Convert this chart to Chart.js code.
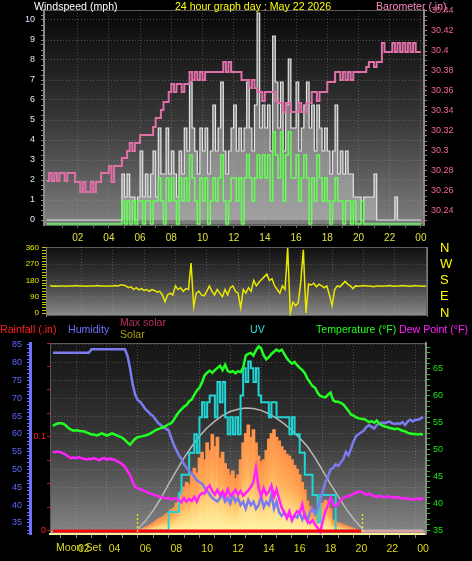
<!DOCTYPE html>
<html>
<head>
<meta charset="utf-8">
<script src="https://cdn.jsdelivr.net/npm/chart.js@4.4.1/dist/chart.umd.min.js"></script>
<style>
  body { margin: 0; background: #000; width: 472px; height: 561px; overflow: hidden;
         font-family: "Liberation Sans", Arial, sans-serif; }
  #wrap { position: relative; width: 472px; height: 561px; }
  canvas { position: absolute; left: 0; }
  .lbl { position: absolute; font-size: 10.6px; line-height: 12px; white-space: nowrap; }
</style>
</head>
<body>
<div id="wrap">
  <canvas id="windChart" width="472" height="245" style="top:0"></canvas>
  <canvas id="dirChart" width="472" height="82" style="top:240px"></canvas>
  <canvas id="climateChart" width="472" height="231" style="top:330px"></canvas>

  <div class="lbl" style="left:34px;top:0;color:#fff">Windspeed (mph)</div>
  <div class="lbl" style="left:253px;top:0;color:#ffff00;transform:translateX(-50%)">24 hour graph day : May 22 2026</div>
  <div class="lbl" style="left:376px;top:0;color:#ff88c0">Barometer (.in)</div>

  <div class="lbl" style="left:0;top:323px;color:#ff2020">Rainfall (.in)</div>
  <div class="lbl" style="left:68px;top:323px;color:#7070ff">Humidity</div>
  <div class="lbl" style="left:120px;top:316px;color:#b83058">Max solar</div>
  <div class="lbl" style="left:120px;top:328px;color:#a8a010">Solar</div>
  <div class="lbl" style="left:250px;top:323px;color:#20e0e0">UV</div>
  <div class="lbl" style="left:316px;top:323px;color:#20ff20">Temperature (°F)</div>
  <div class="lbl" style="left:399px;top:323px;color:#ff20ff">Dew Point (°F)</div>
  <div class="lbl" style="left:56px;top:541px;color:#d8d820">Moon Set</div>
</div>

<script>
// ---- data: 10 minute samples, index 0 = 00:00, index 144 = 24:00 ----
const STEP = 1 / 6;

const GUST = [
  0,0,0,0,0,0, 0,0,0,0,0,0,
  0,0,0,0,0,0, 0,0,0,0,0,0,
  0,0,0,0,0,2.3, 1.15,2.3,1.15,1.15,0,1.15,
  3.45,1.15,2.3,1.15,2.3,3.45, 1.15,4.6,2.3,2.3,4.6,2.3,
  3.45,2.3,1.15,3.45,2.3,4.6, 3.45,6.9,4.6,3.45,2.3,4.6,
  3.45,4.6,2.3,3.45,5.75,3.45, 4.6,6.9,3.45,2.3,3.45,4.6,
  5.75,3.45,4.6,3.45,4.6,6.9, 4.6,3.45,5.75,10.35,4.6,5.75,
  4.6,5.75,3.45,9.2,6.9,4.6, 6.9,3.45,5.75,8.05,4.6,4.6,
  6.9,3.45,4.6,5.75,6.9,4.6, 5.75,3.45,5.75,4.6,3.45,4.6,
  3.45,2.3,3.45,5.75,2.3,3.45, 2.3,3.45,2.3,2.3,1.15,1.15,
  1.15,0,1.15,1.15,1.15,1.15, 2.3,0,0,0,0,0,
  0,0,1.15,0,0,0, 0,0,0,0,0,0,
  0
];

const AVG_WIND = [
  0,0,0,0,0,0, 0,0,0,0,0,0,
  0,0,0,0,0,0, 0,0,0,0,0,0,
  0,0,0,0,0,1.15, 0,1.15,0,1.15,0,1.15,
  1.15,0,1.15,1.15,0,1.15, 1.15,2.3,1.15,0,2.3,1.15,
  2.3,1.15,0,2.3,1.15,2.3, 1.15,3.45,2.3,1.15,0,2.3,
  1.15,2.3,0,1.15,2.3,1.15, 2.3,3.45,1.15,0,1.15,2.3,
  2.3,1.15,2.3,0,2.3,3.45, 2.3,1.15,2.3,3.45,2.3,3.45,
  2.3,3.45,1.15,4.6,3.45,2.3, 4.6,1.15,3.45,4.6,2.3,2.3,
  3.45,1.15,2.3,3.45,2.3,0, 2.3,1.15,3.45,2.3,1.15,2.3,
  1.15,0,1.15,2.3,1.15,1.15, 0,1.15,1.15,0,1.15,0,
  0,1.15,0,0,0,0, 0,0,0,0,0,0,
  0,0,0,0,0,0, 0,0,0,0,0,0,
  0
];

const BARO = [
  30.270,30.278,30.270,30.278,30.270,30.278, 30.278,30.270,30.278,30.278,30.278,30.269,
  30.269,30.259,30.269,30.259,30.259,30.269, 30.259,30.269,30.269,30.278,30.278,30.278,
  30.285,30.269,30.285,30.285,30.285,30.293, 30.293,30.300,30.308,30.300,30.308,30.308,
  30.316,30.316,30.316,30.316,30.316,30.324, 30.333,30.333,30.341,30.349,30.349,30.359,
  30.367,30.359,30.367,30.367,30.359,30.367, 30.367,30.379,30.371,30.379,30.371,30.379,
  30.371,30.379,30.379,30.379,30.379,30.379, 30.379,30.379,30.389,30.379,30.389,30.379,
  30.379,30.379,30.379,30.371,30.371,30.371, 30.363,30.371,30.363,30.359,30.359,30.350,
  30.359,30.359,30.359,30.359,30.350,30.348, 30.348,30.339,30.348,30.348,30.339,30.339,
  30.339,30.348,30.339,30.339,30.348,30.348, 30.359,30.359,30.350,30.359,30.359,30.359,
  30.369,30.369,30.369,30.379,30.379,30.371, 30.379,30.371,30.379,30.371,30.379,30.379,
  30.379,30.379,30.379,30.384,30.389,30.389, 30.384,30.389,30.389,30.408,30.399,30.399,
  30.399,30.408,30.399,30.408,30.399,30.408, 30.399,30.408,30.399,30.408,30.399,30.399,
  30.399
];

const WIND_DIR = [
  152,148,150,148,150,150, 148,150,150,150,152,150,
  150,150,148,150,150,150, 152,150,150,148,150,150,
  150,152,150,155,155,150, 140,145,130,140,128,135,
  125,130,120,130,125,115, 120,100,63,100,110,100,
  150,130,140,120,135,130, 277,35,110,120,100,95,
  120,150,120,100,130,110, 90,130,100,140,150,120,
  110,28,130,110,140,120, 180,150,170,185,200,215,
  180,190,150,130,110,150, 130,360,0,60,40,55,
  170,350,0,160,155,165, 145,160,150,140,150,100,
  40,130,150,145,160,175, 160,150,135,150,148,150,
  152,150,150,148,145,150, 150,148,150,150,152,150,
  148,150,150,152,150,150, 148,150,152,150,150,148,
  150
];

const HUMIDITY = [
  82.8,82.8,82.8,82.8,82.8,82.8, 82.8,82.8,82.8,82.8,82.8,82.8,
  82.8,82.8,82.8,83.8,83.8,83.8, 83.8,83.8,83.8,83.8,83.8,83.8,
  83.8,83.8,83.8,83.8,83.8,82, 78.5,74,71,69.5,69,68,
  67,66.3,65.5,65,64,63, 62.5,61.8,61.5,61,59,57,
  55.5,54,53,51.5,50.5,49.5, 49,48,47,46.5,46,45,
  44,43,42,41.5,41,42, 43,41,42,40.5,43,41,
  42,40,41,39,41.5,40, 41,39,40,42.5,39.5,41,
  40,43,39,41,38,37, 38,36.5,37.5,36,37,36.5,
  38,36,37.5,35.5,38,39, 37.5,39.5,41,44,46.5,48,
  50,50.5,51.5,51,52,53, 55,54,56,58,59.5,60,
  60.5,61,62,62.5,62,61.5, 62.5,63,63.2,63,63.3,63.5,
  63,62.8,63,62.8,63.3,62.5, 63.5,64,63.5,64,64,64.3,
  64.8
];

const TEMPERATURE = [
  54.4,54.7,54.9,54.9,54.8,54.5, 54,53.7,53.5,53.6,53.5,53.4,
  53.4,53.2,53,52.8,52.8,52.6, 52.8,53,52.8,52.6,52.8,53,
  52.8,52.6,52.4,52.2,51.8,51.3, 50.9,51.5,52,52.3,52.4,52.5,
  52.6,52.8,53,53.3,53.6,53.8, 54,54.2,54.4,54.7,54.9,55.5,
  56.3,57,57.5,58,58.3,59, 59.3,60.2,61,61.5,62.5,63.8,
  64.3,64.7,64.3,64.8,65.2,65.6, 64.8,65.8,64.6,64.4,64.6,64.2,
  64.6,64.4,65.2,67.5,67.8,68, 67.5,68.5,69.2,68.8,67.5,66.8,
  67.2,67.8,68.2,68.6,68.3,68.6, 67.8,67,66.4,66,66.3,65.7,
  65.2,64.8,64.2,63.2,62.5,61.8, 61.5,60.5,60,59.8,59.7,60.2,
  60.6,59.2,58.9,58.9,58.7,58.4, 57.8,57.2,56.5,56.3,56,55.8,
  55.7,55.7,55.4,55.1,55.3,55, 55.4,54.8,54.5,54.3,54.2,54,
  53.9,53.8,53.9,53.7,53.5,53.4, 53.1,53,52.9,52.9,52.8,52.9,
  52.8
];

const DEW_POINT = [
  49.4,49.6,49.6,49.5,49.3,49, 48.7,48.4,48.5,48.4,48.6,48.4,
  48.3,48.1,48.3,48.2,48.4,48.2, 48,48.3,48.4,48.1,48.3,48.2,
  48.1,47.8,47.6,47.2,46.8,46, 45.3,44,43,42.8,42.6,42.4,
  42.2,42,41.8,41.6,41.5,41.2, 41.2,41,40.9,41,40.7,40.8,
  41,40.5,40.2,41,40.3,40.8, 40.4,41.2,40.3,41.5,41.9,41.8,
  42.8,43.3,42.2,41.6,42.5,41.5, 42.2,41.2,42.6,41.4,41.8,42.5,
  41.6,42.3,41.4,41.9,42.4,43, 44,46.6,43,41.3,42.8,41.6,
  42.2,43.3,41.2,42.6,40.8,39.2, 38.3,37.2,38.5,36.8,37.8,38.5,
  38.2,39.8,37.4,36.7,36.3,36.8, 36,35.4,34.6,36.8,38.5,39.6,
  41,39.8,39.4,40,40.6,41, 41.2,41.3,41.5,41.8,42,42.2,
  42.1,41.8,41.6,41.8,41.5,41.3, 41.2,41.4,41.2,41.1,41.3,41.2,
  41.1,41,41.2,41,40.9,41, 40.8,40.8,40.6,40.8,40.9,40.7,
  41
];

const SOLAR = [
  0,0,0,0,0,0, 0,0,0,0,0,0,
  0,0,0,0,0,0, 0,0,0,0,0,0,
  0,0,0,0,0,0, 0,0,2,5,10,16,
  22,28,35,45,55,65, 72,80,92,100,115,125,
  150,175,210,235,260,250, 300,335,310,390,420,380,
  470,430,515,450,500,390, 420,360,330,300,320,280,
  300,380,470,520,565,500, 540,470,400,370,380,430,
  490,520,540,500,480,450, 430,410,400,380,350,330,
  300,260,220,160,130,110, 95,90,120,150,165,155,
  120,60,50,45,40,35, 30,25,20,15,10,6,
  2,0,0,0,0,0, 0,0,0,0,0,0,
  0,0,0,0,0,0, 0,0,0,0,0,0,
  0
];

const UV = [
  0,0,0,0,0,0, 0,0,0,0,0,0,
  0,0,0,0,0,0, 0,0,0,0,0,0,
  0,0,0,0,0,0, 0,0,0,0,0,0,
  0,0,0,0,0,0, 0,0,0,1.1,1.1,1.1,
  1.1,2.2,3.3,3.3,3.3,4.6, 4.6,5.7,4.6,6.7,7.6,6.7,
  7.6,8.0,8.0,6.7,8.8,7.6, 8.8,6.7,5.7,6.7,5.7,6.7,
  5.7,8.0,9.6,8.8,10,9.6, 8.8,9.6,8.0,7.6,7.6,7.6,
  6.7,7.6,7.6,6.7,6.7,6.7, 6.7,6.7,5.7,6.7,5.7,5.7,
  4.6,4.6,3.3,3.3,3.3,2.1, 2.1,0.5,2.1,2.1,2.1,2.1,
  2.1,2.1,0,0,0,0, 0,0,0,0,0,0,
  0,0,0,0,0,0, 0,0,0,0,0,0,
  0,0,0,0,0,0, 0,0,0,0,0,0,
  0
];

const MAX_SOLAR_HOURS = [5.2,5.5,6,6.5,7,7.5,8,8.5,9,9.5,10,10.5,11,11.5,12,12.5,
                         13,13.5,14,14.5,15,15.5,16,16.5,17,17.5,18,18.5,19,19.5,20,20.2];
const MAX_SOLAR = [0,10,55,110,175,250,320,390,450,505,550,585,615,636,648,654,
                   652,642,624,600,570,535,495,450,390,320,250,185,120,65,18,0];

// hourly rainfall total (inches)
const RAIN = [0,0,0,0,0,0,0,0,0,0,0,0,0,0,0,0,0,0,0,0,0,0,0,0,0];

const SUN_TIMES = [5.43, 20.02];          // sunrise, sunset
const HOUR_TICKS = [1,2,3,4,5,6,7,8,9,10,11,12,13,14,15,16,17,18,19,20,21,22,23,24];
const WIND_LABELS = [0,1,2,3,4,5,6,7,8,9,10];
const BARO_LABELS = [30.24,30.26,30.28,30.30,30.32,30.34,30.36,30.38,30.40,30.42,30.44];
const DIR_LABELS = [0,90,180,270,360];
const COMPASS = ['N','E','S','W','N'];
const HUM_LABELS = [35,40,45,50,55,60,65,70,75,80,85];
const TEMP_LABELS = [35,40,45,50,55,60,65];
const RAIN_LABELS = [0, 0.1];

// ---- helpers ----
Chart.defaults.font.family = '"Liberation Sans", Arial, sans-serif';

const pts = (vals, step) => vals.map((v, i) => ({ x: i * step, y: v }));
const ptsAt = (hours, vals) => vals.map((v, i) => ({ x: hours[i], y: v }));
function range(a, b, s) {
  const out = [];
  for (let k = 0; a + k * s <= b + 1e-9; k++) out.push(Math.round((a + k * s) * 1000) / 1000);
  return out;
}
const near = (v, list) => list.some(l => Math.abs(l - v) < 1e-6);
const setTicks = vals => s => { s.ticks = vals.map(v => ({ value: v })); };
const fixSize = (w, h) => s => {
  if (w != null) s.width = w;
  if (h != null) s.height = h;
  s.paddingTop = s.paddingBottom = s.paddingLeft = s.paddingRight = 0;
};
const hourLabel = v => (v % 2 === 0 ? String(v % 24).padStart(2, '0') : '');
const evenHourGrid = c => (c.tick && c.tick.value % 2 === 0 ? 'rgba(170,170,170,0.35)' : 'transparent');

const panelBg = {
  id: 'panelBg',
  beforeDraw(chart, args, opts) {
    const { ctx, chartArea: a } = chart;
    const g = ctx.createLinearGradient(0, a.top, 0, a.bottom);
    opts.stops.forEach(([p, c]) => g.addColorStop(p, c));
    ctx.save();
    ctx.fillStyle = g;
    ctx.fillRect(a.left, a.top, a.width, a.height);
    ctx.strokeStyle = '#5a5a5a';
    ctx.lineWidth = 1;
    ctx.strokeRect(a.left + 0.5, a.top + 0.5, a.width - 1, a.height - 1);
    ctx.restore();
  }
};

const sunMarks = {
  id: 'sunMarks',
  afterDatasetsDraw(chart) {
    const { ctx, chartArea: a, scales: { x } } = chart;
    ctx.save();
    ctx.strokeStyle = '#e8e020';
    ctx.lineWidth = 1.5;
    ctx.setLineDash([2, 2]);
    SUN_TIMES.forEach(h => {
      const px = Math.round(x.getPixelForValue(h)) + 0.5;
      ctx.beginPath();
      ctx.moveTo(px, a.bottom - 20);
      ctx.lineTo(px, a.bottom);
      ctx.stroke();
    });
    ctx.restore();
  }
};

function baseOptions(padding, bg) {
  return {
    responsive: false,
    animation: false,
    devicePixelRatio: 1,
    layout: { padding },
    plugins: { legend: { display: false }, tooltip: { enabled: false }, panelBg: { stops: bg } },
    elements: { point: { radius: 0 }, line: { tension: 0 } }
  };
}

// ---- panel 1: wind speed + barometer ----
const windOpts = baseOptions({ top: 10, bottom: 0, left: 0, right: 0 },
  [[0, '#080808'], [0.5, '#363636'], [1, '#7e7e7e']]);
windOpts.scales = {
  x: {
    type: 'linear', min: -0.16, max: 24.2, offset: false,
    afterBuildTicks: setTicks(HOUR_TICKS), afterFit: fixSize(null, 20),
    ticks: { autoSkip: false, maxRotation: 0, color: '#e0e040', font: { size: 10 }, padding: 4, callback: hourLabel },
    grid: { color: evenHourGrid, tickColor: '#666', tickLength: 3 },
    border: { color: '#666', dash: [1, 2] }
  },
  y: {
    position: 'left', min: -0.25, max: 10.5,
    afterBuildTicks: setTicks(range(0, 10.5, 0.25)), afterFit: fixSize(44, null),
    ticks: { autoSkip: false, color: '#dde6ff', font: { size: 9 }, padding: 6,
             callback: v => (near(v, WIND_LABELS) ? v : '') },
    grid: { color: c => (c.tick && Number.isInteger(c.tick.value) ? 'rgba(160,160,160,0.4)' : 'transparent'),
            tickColor: '#888', tickLength: 3 },
    border: { color: '#8a8a8a', width: 2, dash: [1, 2] }
  },
  yAvg: { display: false, min: -0.05, max: 10.7 },
  yBaro: {
    position: 'right', min: 30.226, max: 30.441,
    afterBuildTicks: setTicks(range(30.23, 30.44, 0.005)), afterFit: fixSize(48, null),
    ticks: { autoSkip: false, color: '#f06890', font: { size: 9 }, padding: 4,
             callback: v => (near(v, BARO_LABELS) ? String(+v.toFixed(2)) : '') },
    grid: { drawOnChartArea: false, tickColor: '#d06090', tickLength: 3 },
    border: { color: '#8a8a8a', width: 2 }
  }
};

new Chart(document.getElementById('windChart'), {
  type: 'line',
  plugins: [panelBg],
  data: {
    datasets: [
      { label: 'Barometer', yAxisID: 'yBaro', data: pts(BARO, STEP), stepped: true,
        borderColor: '#e070a8', borderWidth: 2, order: 0 },
      { label: 'Wind', yAxisID: 'yAvg', data: pts(AVG_WIND, STEP), stepped: true,
        borderColor: '#66ff55', borderWidth: 1.5, order: 1 },
      { label: 'Gust', yAxisID: 'y', data: pts(GUST, STEP), stepped: true,
        borderColor: '#e6e6e6', borderWidth: 1.2, fill: 'origin',
        backgroundColor: 'rgba(200,200,200,0.5)', order: 2 }
    ]
  },
  options: windOpts
});

// ---- panel 2: wind direction ----
const dirOpts = baseOptions({ top: 7, bottom: 6, left: 0, right: 0 },
  [[0, '#101010'], [0.5, '#3c3c3c'], [1, '#8a8a8a']]);
dirOpts.scales = {
  x: {
    type: 'linear', min: -0.26, max: 24.06, offset: false,
    afterBuildTicks: setTicks(HOUR_TICKS), afterFit: fixSize(null, 0),
    ticks: { display: false },
    grid: { color: evenHourGrid, drawTicks: false },
    border: { display: false, dash: [1, 2] }
  },
  y: {
    position: 'left', min: -16.6, max: 365.5,
    afterBuildTicks: setTicks(range(0, 360, 15)), afterFit: fixSize(46, null),
    ticks: { autoSkip: false, color: '#e8e800', font: { size: 8 }, padding: 3,
             callback: v => (near(v, DIR_LABELS) ? v : '') },
    grid: { color: c => (c.tick && c.tick.value % 90 === 0 ? 'rgba(160,160,160,0.3)' : 'transparent'),
            tickColor: '#c8c800', tickLength: 4 },
    border: { color: '#777', dash: [1, 2] }
  },
  yCompass: {
    position: 'right', min: -16.6, max: 365.5,
    afterBuildTicks: setTicks(DIR_LABELS), afterFit: fixSize(45, null),
    ticks: { autoSkip: false, color: '#ffff00', font: { size: 13 }, padding: 13,
             callback: (v, i) => COMPASS[i] },
    grid: { drawOnChartArea: false, drawTicks: false },
    border: { color: '#777' }
  }
};

new Chart(document.getElementById('dirChart'), {
  type: 'line',
  plugins: [panelBg],
  data: {
    datasets: [
      { label: 'Direction', data: pts(WIND_DIR, STEP), borderColor: '#e8e800', borderWidth: 1.5 }
    ]
  },
  options: dirOpts
});

// ---- panel 3: rain, humidity, solar, UV, temperature, dew point ----
const solarFill = c => {
  const chart = c.chart;
  const s = chart.scales.ySolar;
  if (!s || !c.raw || !chart.chartArea) return '#ffb060';
  const base = s.getPixelForValue(0);
  const top = s.getPixelForValue(Math.max(c.raw.y, 1));
  if (!Number.isFinite(base) || !Number.isFinite(top) || base === top) return '#ffb060';
  const g = chart.ctx.createLinearGradient(0, base, 0, top);
  g.addColorStop(0, '#fff4a8');
  g.addColorStop(0.35, '#ffd278');
  g.addColorStop(0.6, '#ffac58');
  g.addColorStop(1, '#ff9048');
  return g;
};

const climOpts = baseOptions({ top: 13, bottom: 0, left: 0, right: 0 },
  [[0, '#141414'], [0.5, '#383838'], [1, '#858585']]);
climOpts.scales = {
  x: {
    type: 'linear', min: -0.19, max: 24.19, offset: false,
    afterBuildTicks: setTicks(HOUR_TICKS), afterFit: fixSize(null, 27),
    ticks: { autoSkip: false, maxRotation: 0, color: '#d8d820', font: { size: 10.5 }, padding: 5, callback: hourLabel },
    grid: { color: evenHourGrid, tickColor: '#888', tickLength: 4 },
    border: { color: '#f4f0a0', width: 2, dash: [1, 2] }
  },
  yHum: {
    position: 'left', weight: 1, min: 31.9, max: 85.56,
    afterBuildTicks: setTicks(range(32, 85, 1)), afterFit: fixSize(30, null),
    ticks: { autoSkip: false, color: '#5a6aff', font: { size: 9 }, padding: 5,
             callback: v => (near(v, HUM_LABELS) ? v : '') },
    grid: { color: c => (c.tick && c.tick.value % 5 === 0 ? 'rgba(160,160,160,0.35)' : 'transparent'),
            tickColor: '#6a6aff', tickLength: 3 },
    border: { color: '#7070ff', width: 3, dash: [1, 2] }
  },
  yRain: {
    position: 'left', weight: 0, min: -0.0032, max: 0.2,
    afterBuildTicks: setTicks(range(0, 0.2, 0.025)), afterFit: fixSize(20, null),
    ticks: { autoSkip: false, color: '#ff2020', font: { size: 9 }, padding: 1,
             callback: v => (near(v, RAIN_LABELS) ? String(+v.toFixed(2)) : '') },
    grid: { drawOnChartArea: false, tickColor: '#d01010', tickLength: 3 },
    border: { display: false }
  },
  yTemp: {
    position: 'right', min: 34.27, max: 69.84,
    afterBuildTicks: setTicks(range(35, 69, 1)), afterFit: fixSize(46, null),
    ticks: { autoSkip: false, color: '#20e020', font: { size: 9 }, padding: 3,
             callback: v => (near(v, TEMP_LABELS) ? v : '') },
    grid: { drawOnChartArea: false, tickColor: '#20c020', tickLength: 4 },
    border: { color: '#888', width: 2 }
  },
  ySolar: { display: false, min: -15, max: 1000 },
  yUV: { display: false, min: -0.2, max: 11.1 }
};

new Chart(document.getElementById('climateChart'), {
  type: 'line',
  plugins: [panelBg, sunMarks],
  data: {
    datasets: [
      { label: 'Rainfall', yAxisID: 'yRain', data: pts(RAIN, 1), borderWidth: 3, order: 0,
        borderColor: '#ff0000',
        segment: { borderColor: c => (c.p0.parsed.x >= SUN_TIMES[1] - 0.1 ? '#e0a0a0' : '#ff0000') } },
      { label: 'Dew Point', yAxisID: 'yTemp', data: pts(DEW_POINT, STEP), borderColor: '#ff22ff', borderWidth: 2.5, order: 1 },
      { label: 'Temperature', yAxisID: 'yTemp', data: pts(TEMPERATURE, STEP), borderColor: '#22ff22', borderWidth: 2.5, order: 2 },
      { label: 'Humidity', yAxisID: 'yHum', data: pts(HUMIDITY, STEP), borderColor: '#7b7bf0', borderWidth: 2.5, order: 3 },
      { label: 'UV', yAxisID: 'yUV', data: pts(UV, STEP), stepped: true, borderColor: '#22d4d4', borderWidth: 2, order: 4 },
      { label: 'Max solar', yAxisID: 'ySolar', data: ptsAt(MAX_SOLAR_HOURS, MAX_SOLAR), borderColor: '#b8b8b8', borderWidth: 1.5, order: 5 },
      { label: 'Solar', type: 'bar', yAxisID: 'ySolar', data: pts(SOLAR, STEP), order: 6,
        backgroundColor: solarFill, borderWidth: 0, barThickness: 3, grouped: false }
    ]
  },
  options: climOpts
});
</script>
</body>
</html>
